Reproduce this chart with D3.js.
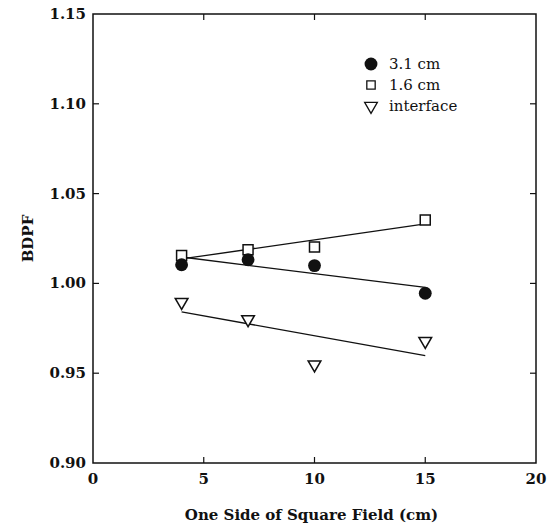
<!DOCTYPE html>
<html>
<head>
<meta charset="utf-8">
<script src="https://cdn.jsdelivr.net/npm/d3@7"></script>
<style>
  body { margin: 0; background: #fff; }
  svg text { font-family: "DejaVu Serif", "Liberation Serif", serif; fill: #111; }
</style>
</head>
<body>
<script>
// field size (cm) for every series
var fieldSize = [4, 7, 10, 15];
var bdpf31 = [1.0104, 1.0132, 1.0099, 0.9945];
var bdpf16 = [1.0155, 1.0188, 1.0203, 1.0353];
var bdpfInterface = [0.9896, 0.9800, 0.9548, 0.9679];

var xTicks = [0, 5, 10, 15, 20];
var yTicks = [0.90, 0.95, 1.00, 1.05, 1.10, 1.15];

var w = 555, h = 530;
var pLeft = 93, pRight = 536, pTop = 14, pBottom = 463;

var svg = d3.select("body").append("svg")
    .attr("width", w)
    .attr("height", h);

var x = d3.scaleLinear().domain([0, 20]).range([pLeft, pRight]);
var y = d3.scaleLinear().domain([0.90, 1.15]).range([pBottom, pTop]);

// frame
svg.append("rect")
    .attr("x", pLeft).attr("y", pTop)
    .attr("width", pRight - pLeft).attr("height", pBottom - pTop)
    .attr("fill", "none").attr("stroke", "#111").attr("stroke-width", 1.5);

// inward ticks on all four sides
var inner = xTicks.slice(1, -1);
svg.selectAll(".xtb").data(inner).enter().append("line")
    .attr("x1", function(d){ return x(d); }).attr("x2", function(d){ return x(d); })
    .attr("y1", pBottom).attr("y2", pBottom - 6)
    .attr("stroke", "#111").attr("stroke-width", 1.2);
svg.selectAll(".xtt").data(inner).enter().append("line")
    .attr("x1", function(d){ return x(d); }).attr("x2", function(d){ return x(d); })
    .attr("y1", pTop).attr("y2", pTop + 6)
    .attr("stroke", "#111").attr("stroke-width", 1.2);
var innerY = yTicks.slice(1, -1);
svg.selectAll(".ytl").data(innerY).enter().append("line")
    .attr("y1", function(d){ return y(d); }).attr("y2", function(d){ return y(d); })
    .attr("x1", pLeft).attr("x2", pLeft + 6)
    .attr("stroke", "#111").attr("stroke-width", 1.2);
svg.selectAll(".ytr").data(innerY).enter().append("line")
    .attr("y1", function(d){ return y(d); }).attr("y2", function(d){ return y(d); })
    .attr("x1", pRight).attr("x2", pRight - 6)
    .attr("stroke", "#111").attr("stroke-width", 1.2);

// tick labels
svg.selectAll(".xl").data(xTicks).enter().append("text")
    .attr("x", function(d){ return x(d); })
    .attr("y", pBottom + 21)
    .attr("text-anchor", "middle")
    .attr("font-size", 15).attr("font-weight", "bold")
    .text(function(d){ return d; });
svg.selectAll(".yl").data(yTicks).enter().append("text")
    .attr("x", pLeft - 7)
    .attr("y", function(d){ return y(d) + 5; })
    .attr("text-anchor", "end")
    .attr("font-size", 15).attr("font-weight", "bold")
    .text(function(d){ return d.toFixed(2); });

// axis titles
svg.append("text")
    .attr("x", (pLeft + pRight) / 2 - 3).attr("y", 520)
    .attr("text-anchor", "middle")
    .attr("font-size", 15).attr("font-weight", "bold")
    .text("One Side of Square Field (cm)");
svg.append("text")
    .attr("transform", "translate(33," + y(1.025) + ") rotate(-90)")
    .attr("text-anchor", "middle")
    .attr("font-size", 15).attr("font-weight", "bold")
    .text("BDPF");

// least squares line through a series
function fit(xs, ys) {
  var mx = d3.mean(xs), my = d3.mean(ys);
  var sxy = d3.sum(xs, function(v, i){ return (v - mx) * (ys[i] - my); });
  var sxx = d3.sum(xs, function(v){ return (v - mx) * (v - mx); });
  var b = sxy / sxx;
  var x0 = d3.min(xs), x1 = d3.max(xs);
  return [[x0, my + b * (x0 - mx)], [x1, my + b * (x1 - mx)]];
}
var line = d3.line()
    .x(function(d){ return x(d[0]); })
    .y(function(d){ return y(d[1]); });

[bdpf31, bdpf16, bdpfInterface].forEach(function(s){
  svg.append("path")
      .attr("d", line(fit(fieldSize, s)))
      .attr("fill", "none").attr("stroke", "#111").attr("stroke-width", 1.3);
});

var circle = d3.symbol().type(d3.symbolCircle).size(130);
var square = d3.symbol().type(d3.symbolSquare).size(100);
var tri = d3.symbol().type(d3.symbolTriangle).size(70);

function pts(vals, sym, filled, rot) {
  svg.selectAll(null).data(vals).enter().append("path")
      .attr("d", sym)
      .attr("transform", function(d, i){
        return "translate(" + x(fieldSize[i]) + "," + y(d) + ")" + (rot ? " rotate(180)" : "");
      })
      .attr("fill", filled ? "#111" : "#fff")
      .attr("stroke", "#111").attr("stroke-width", filled ? 0 : 1.5);
}
pts(bdpf16, square, false, false);
pts(bdpf31, circle, true, false);
pts(bdpfInterface, tri, false, true);

// legend
var legend = [
  {label: "3.1 cm", sym: circle, filled: true, rot: false},
  {label: "1.6 cm", sym: square, filled: false, rot: false},
  {label: "interface", sym: tri, filled: false, rot: true}
];
var lg = svg.selectAll(".lg").data(legend).enter().append("g")
    .attr("transform", function(d, i){ return "translate(371," + (64 + i * 21) + ")"; });
lg.append("path")
    .attr("d", function(d){ return d.sym.size(d.filled ? 130 : 70)(); })
    .attr("transform", function(d){ return d.rot ? "rotate(180)" : null; })
    .attr("fill", function(d){ return d.filled ? "#111" : "#fff"; })
    .attr("stroke", "#111")
    .attr("stroke-width", function(d){ return d.filled ? 0 : 1.3; });
lg.append("text")
    .attr("x", 18).attr("y", 5)
    .attr("font-size", 15)
    .text(function(d){ return d.label; });
</script>
</body>
</html>
